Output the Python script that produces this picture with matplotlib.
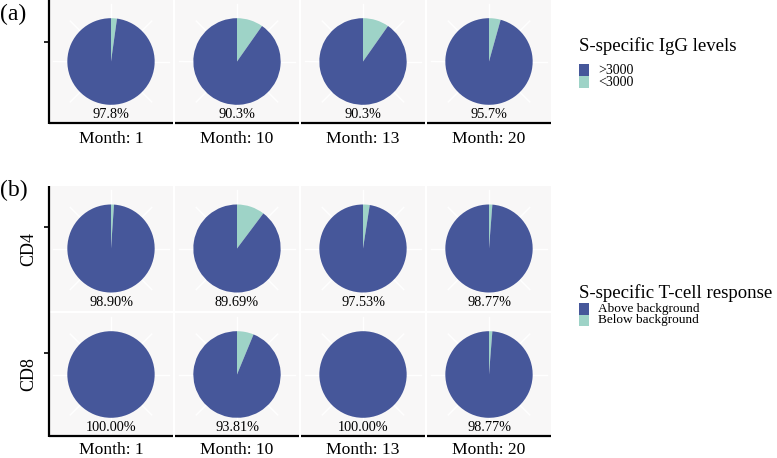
import numpy as np
import matplotlib
matplotlib.use("Agg")
import matplotlib.pyplot as plt
from matplotlib.lines import Line2D
from matplotlib.patches import Rectangle

plt.rcParams['font.family'] = ['Liberation Serif', 'DejaVu Serif']

# ---- data ----
months = ["Month: 1", "Month: 10", "Month: 13", "Month: 20"]
igg_above = [97.8, 90.3, 90.3, 95.7]
cd4_above = [98.90, 89.69, 97.53, 98.77]
cd8_above = [100.00, 93.81, 100.00, 98.77]
row_labels = ["CD4", "CD8"]
igg_legend = [">3000", "<3000"]
tcell_legend = ["Above background", "Below background"]

COL_ABOVE = "#46579A"
COL_BELOW = "#9ED3C7"
PANEL_BG = "#F8F7F7"

W, H = 777, 458
fig = plt.figure(figsize=(W / 100, H / 100), dpi=100)


def px_axes(x0, y0, x1, y1):
    return fig.add_axes([x0 / W, 1 - y1 / H, (x1 - x0) / W, (y1 - y0) / H])


def fig_line(xs, ys, lw=1.5):
    fig.add_artist(Line2D([x / W for x in xs], [1 - y / H for y in ys],
                          color="black", linewidth=lw, solid_capstyle="butt"))


def fig_text(x, y, s, **kw):
    return fig.text(x / W, 1 - y / H, s, **kw)


R_LIM = 1.42


def draw_pie(ax, above, decimals):
    ax.set_facecolor(PANEL_BG)
    for a in np.arange(0, 360, 45):
        t = np.deg2rad(a)
        ax.plot([0, 1.32 * np.cos(t)], [0, 1.32 * np.sin(t)], color="white",
                lw=1.0, zorder=1)
    below = 100 - above
    ax.pie([below, above], colors=[COL_BELOW, COL_ABOVE], startangle=90,
           counterclock=False, radius=1.0, wedgeprops=dict(linewidth=0),
           frame=True)
    ax.set_xlim(-R_LIM, R_LIM)
    ax.set_ylim(-R_LIM, R_LIM)
    ax.set_aspect("auto")
    ax.text(0, -1.23, f"{above:.{decimals}f}%", ha="center", va="center",
            fontsize=10.3, zorder=5)
    ax.set_xticks([])
    ax.set_yticks([])
    for s in ax.spines.values():
        s.set_visible(False)


col_x = [(49, 173), (175, 299), (301, 425), (427, 551)]

# ---- panel (a) ----
a_y = (0, 123)
for (x0, x1), val, m in zip(col_x, igg_above, months):
    ax = px_axes(x0, a_y[0], x1, a_y[1])
    draw_pie(ax, val, 1)
    fig_line([x0, x1], [a_y[1], a_y[1]], lw=1.6)
    fig_text((x0 + x1) / 2, 139, m, ha="center", va="center", fontsize=12.6)
fig_line([49, 49], [0, a_y[1] + 0.7], lw=1.6)
fig_line([44, 49], [42, 42], lw=1.2)
fig_text(13, 14, "(a)", ha="center", va="center", fontsize=17)

# ---- panel (b) ----
rows_y = [(186, 311), (313, 436)]
tick_y = [227, 353]
for (y0, y1), vals, lab, ty in zip(rows_y, [cd4_above, cd8_above], row_labels, tick_y):
    for (x0, x1), val in zip(col_x, vals):
        ax = px_axes(x0, y0, x1, y1)
        draw_pie(ax, val, 2)
    fig_line([44, 49], [ty, ty], lw=1.2)
    fig_text(29, (y0 + y1) / 2, lab, ha="center", va="center", rotation=90,
             fontsize=13)
for (x0, x1), m in zip(col_x, months):
    fig_line([x0, x1], [436, 436], lw=1.6)
    fig_text((x0 + x1) / 2, 450, m, ha="center", va="center", fontsize=12.6)
fig_line([49, 49], [186, 436.7], lw=1.6)
fig_text(14, 190, "(b)", ha="center", va="center", fontsize=17)


# ---- legends (manual) ----
def add_legend(labels, title, title_y, key_top, key_h=12):
    fig_text(579, title_y, title, ha="left", va="center", fontsize=13.5)
    for i, (lab, col) in enumerate(zip(labels, [COL_ABOVE, COL_BELOW])):
        y0 = key_top + i * key_h
        fig.add_artist(Rectangle((579 / W, 1 - (y0 + key_h) / H), 10 / W,
                                 key_h / H, facecolor=col, edgecolor="none",
                                 transform=fig.transFigure))
        fig_text(598, y0 + key_h / 2, lab, ha="left", va="center",
                 fontsize=10 if labels is igg_legend else 9.5)


add_legend(igg_legend, "S-specific IgG levels", 46, 64)
add_legend(tcell_legend, "S-specific T-cell response", 293, 303, key_h=11.5)

fig.savefig("out.png", dpi=100)
